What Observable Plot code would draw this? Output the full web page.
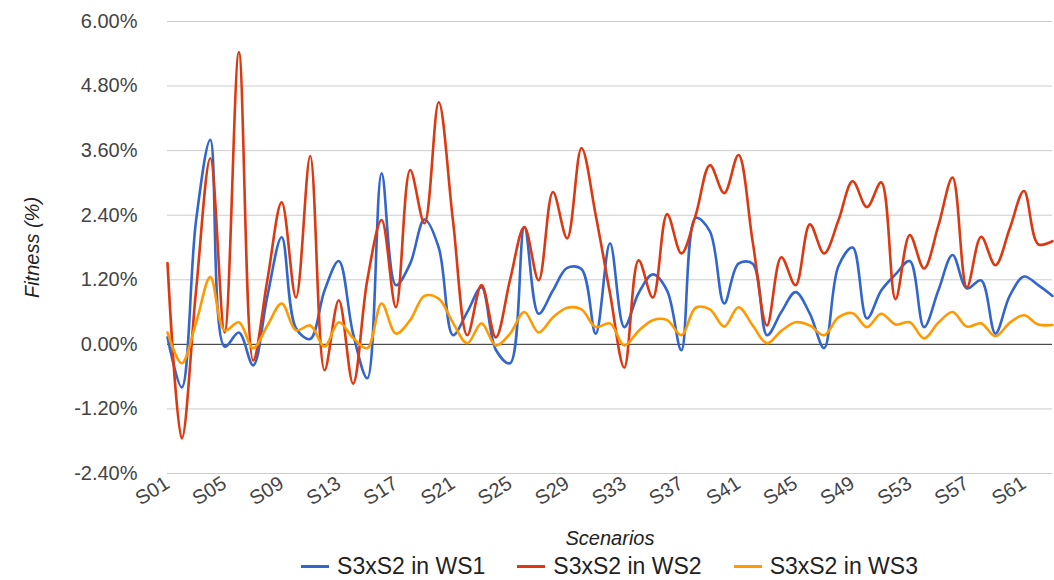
<!DOCTYPE html>
<html>
<head>
<meta charset="utf-8">
<script src="https://cdn.jsdelivr.net/npm/d3@7"></script>
<script src="https://cdn.jsdelivr.net/npm/@observablehq/plot@0.6"></script>
<style>
  html, body { margin: 0; padding: 0; background: #fff; }
  #chart { width: 1054px; height: 580px; position: relative; font-family: Arial, "Liberation Sans", sans-serif; }
  #chart svg g[aria-label="x-axis label"], #chart svg g[aria-label="y-axis label"] { font-style: italic; fill: #222; }
  .legend { display: flex; justify-content: center; align-items: center; height: 28px; gap: 32px; font-size: 23px; color: #222; padding-left: 167px; padding-right: 2px; box-sizing: border-box; width: 1054px; }
  .legend .item { display: flex; align-items: center; gap: 8px; }
  .legend .sw { width: 28px; height: 3px; display: inline-block; }
</style>
</head>
<body>
<div id="chart"></div>
<script>
const scenarios = ["S01","S02","S03","S04","S05","S06","S07","S08","S09","S10",
  "S11","S12","S13","S14","S15","S16","S17","S18","S19","S20",
  "S21","S22","S23","S24","S25","S26","S27","S28","S29","S30",
  "S31","S32","S33","S34","S35","S36","S37","S38","S39","S40",
  "S41","S42","S43","S44","S45","S46","S47","S48","S49","S50",
  "S51","S52","S53","S54","S55","S56","S57","S58","S59","S60",
  "S61","S62","S63"];
const xTickLabels = ["S01","S05","S09","S13","S17","S21","S25","S29","S33","S37","S41","S45","S49","S53","S57","S61"];
const yTickValues = [-2.4, -1.2, 0, 1.2, 2.4, 3.6, 4.8, 6.0];

const seriesNames = ["S3xS2 in WS1", "S3xS2 in WS2", "S3xS2 in WS3"];
const seriesColors = ["#3366cc", "#dc3912", "#ff9900"];

// Fitness values in %
const ws1 = [0.13,-0.80,2.30,3.80,-0.04,0.22,-0.39,0.90,1.99,0.30,
  0.10,1.00,1.55,0.20,-0.63,3.18,1.10,1.50,2.32,1.80,
  0.17,0.60,1.06,-0.10,-0.35,2.18,0.57,1.00,1.42,1.40,
  0.20,1.88,0.32,0.95,1.30,1.00,-0.11,2.35,2.10,0.76,
  1.50,1.50,0.17,0.60,0.97,0.57,-0.07,1.45,1.80,0.48,
  1.00,1.30,1.55,0.32,1.00,1.66,1.04,1.19,0.20,0.90,
  1.26,1.10,0.90];
const ws2 = [1.51,-1.75,1.00,3.46,0.22,5.43,-0.30,1.20,2.64,0.87,
  3.50,-0.48,0.82,-0.73,1.20,2.31,0.69,3.24,2.25,4.50,
  2.30,0.17,1.10,0.13,1.20,2.18,1.19,2.83,1.97,3.65,
  2.40,0.95,-0.43,1.56,0.87,2.42,1.69,2.40,3.33,2.81,
  3.52,1.90,0.35,1.62,1.10,2.23,1.69,2.30,3.03,2.55,
  3.01,0.84,2.03,1.41,2.20,3.10,1.06,2.00,1.47,2.15,
  2.85,1.86,1.92];
const ws3 = [0.22,-0.35,0.40,1.25,0.26,0.41,-0.07,0.35,0.76,0.26,
  0.35,-0.04,0.41,0.12,-0.07,0.76,0.20,0.45,0.90,0.85,
  0.40,0.02,0.39,-0.02,0.20,0.60,0.22,0.50,0.68,0.65,
  0.32,0.39,-0.02,0.25,0.45,0.45,0.17,0.68,0.65,0.33,
  0.69,0.35,0.02,0.25,0.41,0.35,0.17,0.50,0.58,0.32,
  0.57,0.37,0.41,0.11,0.40,0.60,0.33,0.39,0.15,0.40,
  0.54,0.37,0.36];

const rows = [];
[ws1, ws2, ws3].forEach((vals, k) => vals.forEach((v, i) => rows.push({scenario: scenarios[i], value: v, series: seriesNames[k]})));

const chart = Plot.plot({
  width: 1054,
  height: 552,
  marginLeft: 167,
  marginRight: 2,
  marginTop: 21,
  marginBottom: 79,
  style: {fontFamily: "Arial, 'Liberation Sans', sans-serif", fontSize: "20px", color: "#444", background: "#fff", overflow: "visible"},
  x: {type: "point", domain: scenarios, padding: 0, round: false},
  y: {domain: [-2.4, 6.0]},
  color: {domain: seriesNames, range: seriesColors},
  marks: [
    Plot.gridY(yTickValues, {stroke: "#cccccc", strokeOpacity: 1, strokeWidth: 1}),
    Plot.ruleY([0], {stroke: "#333333", strokeWidth: 1}),
    Plot.axisY(yTickValues, {tickFormat: d => d.toFixed(2) + "%", tickSize: 0, tickPadding: 30, label: "Fitness (%)", labelAnchor: "center", labelOffset: 143, labelArrow: "none"}),
    Plot.axisX(xTickLabels, {tickSize: 0, tickPadding: 8, tickRotate: -32, label: "Scenarios", labelAnchor: "center", labelOffset: 71, labelArrow: "none"}),
    Plot.line(rows, {x: "scenario", y: "value", stroke: "series", z: "series", strokeWidth: 2.6, curve: "catmull-rom"})
  ]
});
const host = document.getElementById("chart");
host.appendChild(chart);

const legend = document.createElement("div");
legend.className = "legend";
seriesNames.forEach((name, k) => {
  const item = document.createElement("span");
  item.className = "item";
  const sw = document.createElement("span");
  sw.className = "sw";
  sw.style.background = seriesColors[k];
  const label = document.createElement("span");
  label.textContent = name;
  item.appendChild(sw);
  item.appendChild(label);
  legend.appendChild(item);
});
host.appendChild(legend);
</script>
</body>
</html>
